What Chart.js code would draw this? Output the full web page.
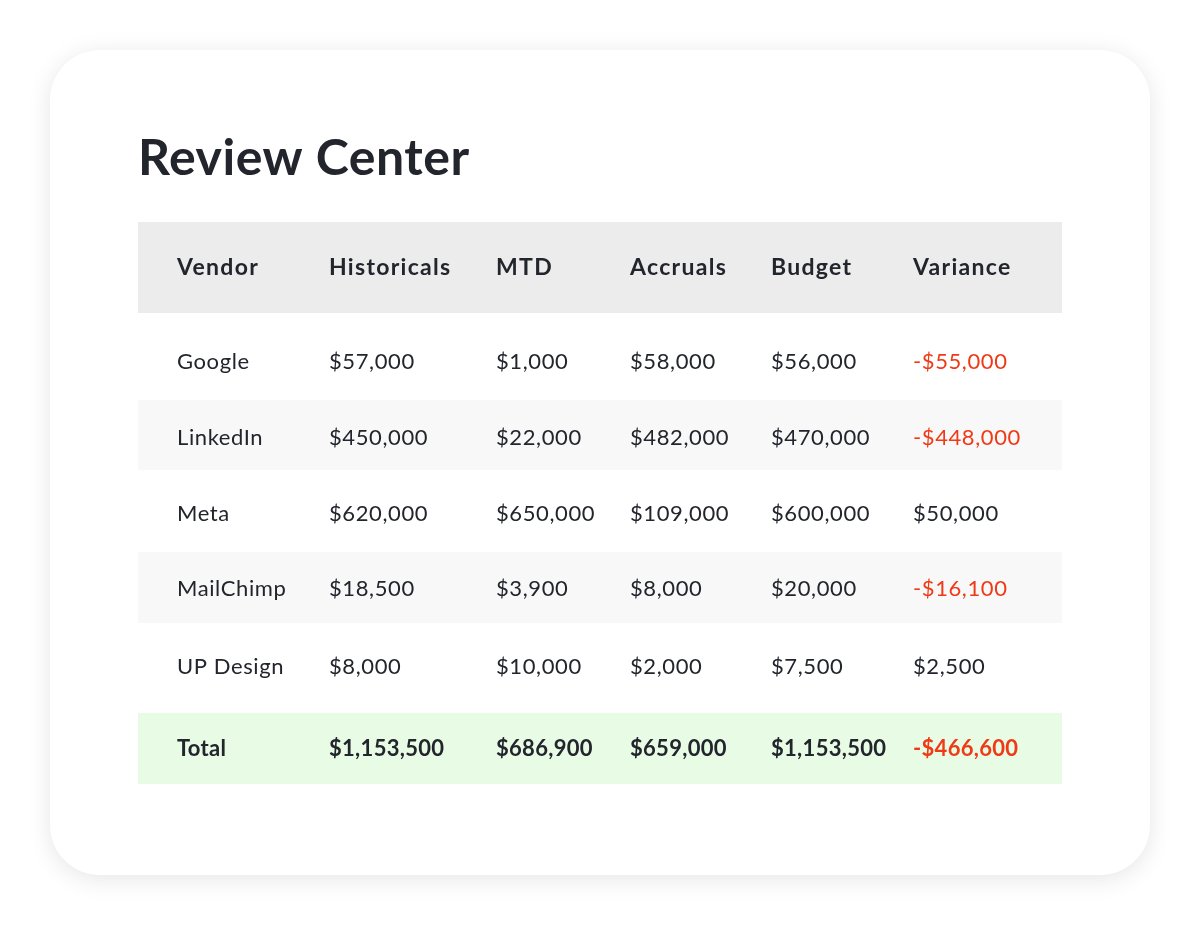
<!DOCTYPE html>
<html><head><meta charset="utf-8">
<script src="https://cdn.jsdelivr.net/npm/chart.js@4"></script>
<style>
html,body{margin:0;background:#fff;}
#card{position:absolute;left:50px;top:50px;width:1100px;height:825px;border-radius:50px;background:#fff;box-shadow:0 4px 24px rgba(0,0,0,0.10);}
#wrap{position:absolute;left:0;top:0;width:1200px;height:925px;}
</style></head>
<body>
<div id="card"></div>
<div id="wrap"><canvas id="c" width="1200" height="925"></canvas></div>
<script>
const title = 'Review Center';
const columns = ['Vendor', 'Historicals', 'MTD', 'Accruals', 'Budget', 'Variance'];
const vendors = ['Google', 'LinkedIn', 'Meta', 'MailChimp', 'UP Design'];
const historicals = [57000, 450000, 620000, 18500, 8000];
const mtd = [1000, 22000, 650000, 3900, 10000];
const accruals = [58000, 482000, 109000, 8000, 2000];
const budget = [56000, 470000, 600000, 20000, 7500];
const variance = [-55000, -448000, 50000, -16100, 2500];
const totals = [1153500, 686900, 659000, 1153500, -466600];

// layout: column left edges and row centres in page pixels
const colX = [177, 329, 496, 630, 771, 913];
const rowY = [268, 362, 438, 514, 589, 667, 749];
const rowBands = [[222, 313, '#ececec'], [400, 470, '#f8f8f8'], [552, 623, '#f8f8f8'], [713, 784, '#e8fbe4']];

const fmt = v => (v < 0 ? '-$' : '$') + Math.abs(v).toLocaleString('en-US');
const seriesByCol = [historicals, mtd, accruals, budget, variance];

// one invisible point per cell, positioned by the scales
const points = [];
columns.forEach((c, ci) => points.push({x: colX[ci], y: rowY[0], text: c, kind: 'head'}));
vendors.forEach((v, ri) => {
  points.push({x: colX[0], y: rowY[ri + 1], text: v, kind: 'body'});
  seriesByCol.forEach((s, si) => points.push({x: colX[si + 1], y: rowY[ri + 1], text: fmt(s[ri]), kind: 'body', neg: s[ri] < 0}));
});
points.push({x: colX[0], y: rowY[6], text: 'Total', kind: 'total'});
totals.forEach((t, ti) => points.push({x: colX[ti + 1], y: rowY[6], text: fmt(t), kind: 'total', neg: t < 0}));

const tablePlugin = {
  id: 'table',
  beforeDatasetsDraw(chart) {
    const ctx = chart.ctx, xs = chart.scales.x, ys = chart.scales.y;
    ctx.save();
    rowBands.forEach(([a, b, col]) => {
      ctx.fillStyle = col;
      const y0 = ys.getPixelForValue(a), y1 = ys.getPixelForValue(b);
      ctx.fillRect(xs.getPixelForValue(138), y0, xs.getPixelForValue(1062) - xs.getPixelForValue(138), y1 - y0);
    });
    ctx.fillStyle = '#23252d';
    ctx.font = 'bold 50px Lato';
    ctx.letterSpacing = '0.5px';
    ctx.textBaseline = 'alphabetic';
    ctx.fillText(title, xs.getPixelForValue(138), ys.getPixelForValue(175));
    const meta = chart.getDatasetMeta(0);
    ctx.textBaseline = 'middle';
    meta.data.forEach((el, i) => {
      const p = points[i];
      if (p.kind === 'head') { ctx.font = 'bold 23px Lato'; ctx.letterSpacing = '1.3px'; }
      else if (p.kind === 'total') { ctx.font = 'bold 22px Lato'; ctx.letterSpacing = '0.3px'; }
      else { ctx.font = '22px Lato'; ctx.letterSpacing = '0.6px'; }
      ctx.fillStyle = p.neg ? '#f03a17' : '#23252d';
      ctx.fillText(p.text, el.x, el.y);
    });
    ctx.restore();
  }
};

new Chart(document.getElementById('c'), {
  type: 'scatter',
  data: {datasets: [{data: points, pointRadius: 0, pointHoverRadius: 0}]},
  options: {
    responsive: false, animation: false, events: [],
    layout: {padding: 0},
    plugins: {legend: {display: false}, tooltip: {enabled: false}},
    scales: {
      x: {type: 'linear', min: 0, max: 1200, display: false},
      y: {type: 'linear', min: 0, max: 925, reverse: true, display: false}
    }
  },
  plugins: [tablePlugin]
});
</script>
</body></html>
